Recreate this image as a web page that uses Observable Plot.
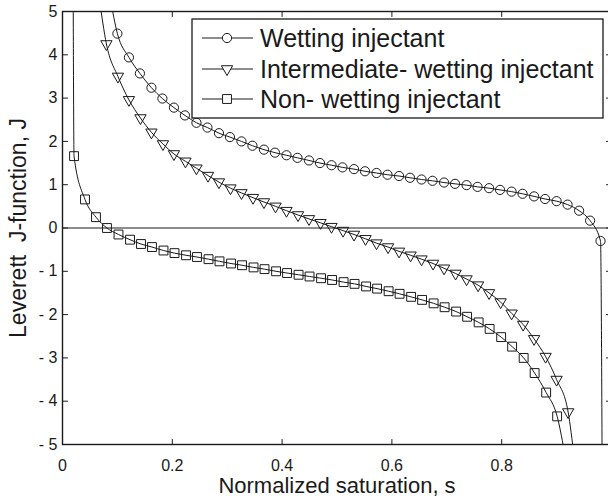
<!DOCTYPE html>
<html>
<head>
<meta charset="utf-8">
<script src="https://cdn.jsdelivr.net/npm/d3@7"></script>
<script src="https://cdn.jsdelivr.net/npm/@observablehq/plot@0.6"></script>
<style>
  html, body { margin: 0; padding: 0; background: #fff; }
  #chart { position: relative; width: 608px; height: 498px; overflow: hidden; }
  #chart svg { display: block; max-width: none; }
</style>
</head>
<body>
<div id="chart"></div>
<script>
// ---- Data ----
const seriesNames = ["Wetting injectant", "Intermediate- wetting injectant", "Non- wetting injectant"];

// Wetting injectant (circles)
const wetS = [0.100,0.121,0.141,0.162,0.182,0.203,0.223,0.244,0.264,0.285,0.305,0.326,0.346,0.367,0.387,0.408,0.428,0.449,0.469,0.490,0.510,0.531,0.551,0.572,0.592,0.613,0.633,0.654,0.674,0.695,0.715,0.736,0.756,0.777,0.797,0.818,0.838,0.859,0.879,0.900,0.920,0.941,0.961,0.980];
const wetJ = [4.49,3.94,3.57,3.24,2.99,2.78,2.60,2.43,2.32,2.19,2.10,2.00,1.90,1.81,1.74,1.68,1.62,1.56,1.50,1.45,1.40,1.36,1.31,1.27,1.23,1.20,1.16,1.12,1.09,1.05,1.02,0.99,0.95,0.92,0.88,0.84,0.79,0.73,0.67,0.62,0.54,0.40,0.17,-0.30];
// curve continues beyond the markers (off-frame ends)
const wetStart = [0.087, 5.3];
const wetEnd = [0.983, -5.6];

// Intermediate-wetting injectant (down triangles)
const intS = [0.080,0.101,0.121,0.142,0.162,0.183,0.203,0.224,0.244,0.265,0.285,0.306,0.326,0.347,0.367,0.388,0.408,0.429,0.449,0.470,0.490,0.511,0.531,0.552,0.572,0.593,0.613,0.634,0.654,0.675,0.695,0.716,0.736,0.757,0.777,0.798,0.818,0.839,0.859,0.880,0.900,0.921];
const intJ = [4.25,3.50,2.96,2.54,2.21,1.94,1.71,1.54,1.38,1.21,1.06,0.92,0.81,0.70,0.60,0.50,0.40,0.30,0.21,0.12,0.03,-0.06,-0.15,-0.25,-0.35,-0.44,-0.54,-0.63,-0.72,-0.82,-0.93,-1.05,-1.18,-1.32,-1.50,-1.71,-1.97,-2.23,-2.56,-2.97,-3.50,-4.25];
const intStart = [0.067, 5.3];
const intEnd = [0.932, -5.3];

// Non-wetting injectant (squares)
const nonS = [0.021,0.041,0.061,0.081,0.102,0.123,0.143,0.163,0.184,0.204,0.225,0.245,0.266,0.286,0.307,0.327,0.348,0.368,0.389,0.409,0.430,0.450,0.471,0.491,0.512,0.532,0.553,0.573,0.594,0.614,0.635,0.655,0.676,0.696,0.717,0.737,0.758,0.778,0.799,0.819,0.840,0.860,0.881,0.901];
const nonJ = [1.66,0.66,0.25,0.00,-0.15,-0.27,-0.37,-0.44,-0.52,-0.58,-0.63,-0.67,-0.72,-0.77,-0.82,-0.86,-0.91,-0.95,-1.00,-1.04,-1.08,-1.12,-1.16,-1.20,-1.25,-1.29,-1.35,-1.40,-1.46,-1.52,-1.59,-1.66,-1.74,-1.83,-1.93,-2.05,-2.18,-2.33,-2.52,-2.74,-3.00,-3.35,-3.80,-4.35];
const nonStart = [0.0195, 5.3];
const nonEnd = [0.916, -5.3];

const xTicks = [0, 0.2, 0.4, 0.6, 0.8, 1];
const yTicks = [-5, -4, -3, -2, -1, 0, 1, 2, 3, 4, 5];
const xLabel = "Normalized saturation, s";
const yLabel = "Leverett  J-function, J";

// ---- Build tables ----
const pts = (S, J) => S.map((s, i) => ({s, j: J[i]}));
const lineOf = (start, S, J, end) => [{s: start[0], j: start[1]}, ...pts(S, J), {s: end[0], j: end[1]}];

const wetPts = pts(wetS, wetJ), intPts = pts(intS, intJ), nonPts = pts(nonS, nonJ);
const wetLine = lineOf(wetStart, wetS, wetJ, wetEnd);
const intLine = lineOf(intStart, intS, intJ, intEnd);
const nonLine = lineOf(nonStart, nonS, nonJ, nonEnd);

const tickShape = { draw(context, l) { context.moveTo(0, 0); context.lineTo(0, -l); } };
const fmtY = d => d < 0 ? "- " + (-d) : String(d);
const ink = "#1a1a1a";

const chart = Plot.plot({
  width: 608,
  height: 498,
  marginLeft: 62,
  marginRight: -3,
  marginTop: 11,
  marginBottom: 54,
  style: { fontFamily: "'Liberation Sans', Arial, sans-serif", fontSize: "16px", color: ink, background: "#fff" },
  x: { domain: [0, 1] },
  y: { domain: [-5, 5] },
  marks: [
    Plot.ruleY([0], { stroke: ink, strokeWidth: 1 }),
    Plot.line(wetLine, { x: "s", y: "j", stroke: ink, strokeWidth: 1, curve: "monotone-x", clip: true }),
    Plot.line(intLine, { x: "s", y: "j", stroke: ink, strokeWidth: 1, curve: "monotone-x", clip: true }),
    Plot.line(nonLine, { x: "s", y: "j", stroke: ink, strokeWidth: 1, curve: "monotone-x", clip: true }),
    Plot.dot(wetPts, { x: "s", y: "j", symbol: "circle", r: 4.6, stroke: ink, strokeWidth: 1, fill: "none" }),
    Plot.dot(intPts, { x: "s", y: "j", symbol: "triangle", rotate: 180, r: 4.2, stroke: ink, strokeWidth: 1, fill: "none" }),
    Plot.dot(nonPts, { x: "s", y: "j", symbol: "square", r: 5, stroke: ink, strokeWidth: 1, fill: "none" }),
    Plot.frame({ stroke: ink, strokeWidth: 1.4 }),
    // inward ticks on all four sides
    Plot.vector(xTicks, { x: d => d, y: -5, length: 5, rotate: 0, anchor: "start", shape: tickShape, stroke: ink, strokeWidth: 1 }),
    Plot.vector(xTicks, { x: d => d, y: 5, length: 5, rotate: 180, anchor: "start", shape: tickShape, stroke: ink, strokeWidth: 1 }),
    Plot.vector(yTicks, { x: 0, y: d => d, length: 5, rotate: 90, anchor: "start", shape: tickShape, stroke: ink, strokeWidth: 1 }),
    Plot.vector(yTicks, { x: 1, y: d => d, length: 5, rotate: -90, anchor: "start", shape: tickShape, stroke: ink, strokeWidth: 1 }),
    Plot.axisX(xTicks.slice(0, 5), { tickSize: 0, tickPadding: 15, label: null, fontSize: 16, tickFormat: d => String(d) }),
    Plot.axisY(yTicks, { tickSize: 0, tickPadding: 5, label: null, fontSize: 16, tickFormat: fmtY }),
    Plot.text([xLabel], { frameAnchor: "bottom", dy: 41.5, textAnchor: "middle", lineAnchor: "middle", fontSize: 22, text: d => d, fill: ink }),
    Plot.text([yLabel], { frameAnchor: "left", dx: -44, rotate: -90, textAnchor: "middle", lineAnchor: "middle", fontSize: 23, text: d => d, fill: ink })
  ]
});

document.getElementById("chart").appendChild(chart);

// ---- Legend (inside the axes, top right) ----
const svg = d3.select(chart);
const lg = svg.append("g").attr("class", "legend").attr("text-anchor", "start");
const box = { x: 192, y: 19, w: 411, h: 99 };
lg.append("rect").attr("x", box.x).attr("y", box.y).attr("width", box.w).attr("height", box.h)
  .attr("fill", "#fff").attr("stroke", ink).attr("stroke-width", 1.3);
const rowY = [38, 69, 99];
const symbols = [d3.symbolCircle, d3.symbolTriangle, d3.symbolSquare];
const sizes = [Math.PI * 4.6 * 4.6, Math.PI * 4.2 * 4.2, Math.PI * 5 * 5];
seriesNames.forEach((name, i) => {
  const y = rowY[i];
  lg.append("line").attr("x1", 202).attr("x2", 253).attr("y1", y).attr("y2", y)
    .attr("stroke", ink).attr("stroke-width", 1);
  lg.append("path").attr("d", d3.symbol(symbols[i], sizes[i])())
    .attr("transform", `translate(227,${y})` + (i === 1 ? " rotate(180)" : ""))
    .attr("fill", "#fff").attr("stroke", ink).attr("stroke-width", 1);
  lg.append("text").attr("x", 260).attr("y", y).attr("dy", "0.36em")
    .attr("text-anchor", "start").attr("font-size", 25).attr("fill", ink).text(name);
});
</script>
</body>
</html>
